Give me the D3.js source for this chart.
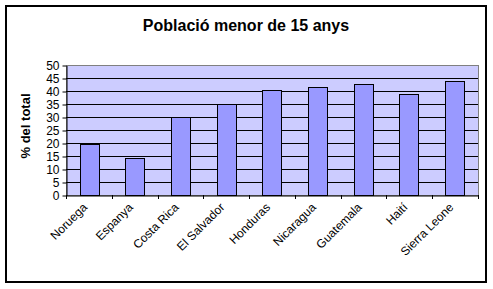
<!DOCTYPE html>
<html>
<head>
<meta charset="utf-8">
<script src="https://cdn.jsdelivr.net/npm/d3@7.9.0/dist/d3.min.js"></script>
<style>
  html, body { margin: 0; padding: 0; background: #fff; }
  svg { display: block; font-family: Arial, "Liberation Sans", sans-serif; }
</style>
</head>
<body>
<svg id="chart" width="493" height="289"></svg>
<script>
// data
var countries = ['Noruega', 'Espanya', 'Costa Rica', 'El Salvador', 'Honduras',
    'Nicaragua', 'Guatemala', 'Haití', 'Sierra Leone']
var values = [19.6, 14.1, 30.0, 34.9, 40.3, 41.4, 42.6, 38.7, 43.7]
var yTicks = [0, 5, 10, 15, 20, 25, 30, 35, 40, 45, 50]

var svg = d3.select('#chart')
var plot = { left: 66, top: 65, right: 478, bottom: 195 }

// outer frame
svg.append('rect')
    .attr('x', 6).attr('y', 6)
    .attr('width', 480).attr('height', 276)
    .attr('fill', '#fff')
    .attr('stroke', '#000')
    .attr('stroke-width', 2)

svg.append('text')
    .attr('x', 246).attr('y', 31)
    .attr('text-anchor', 'middle')
    .attr('font-size', 16)
    .attr('font-weight', 'bold')
    .text('Població menor de 15 anys')

var x = d3.scaleBand().domain(countries).range([plot.left, plot.right]).paddingInner(0.58).paddingOuter(0.3)
var xb = d3.scaleBand().domain(countries).range([plot.left, plot.right])
var y = d3.scaleLinear().domain([0, 50]).range([plot.bottom, plot.top])

// plot background
svg.append('rect')
    .attr('x', plot.left).attr('y', plot.top)
    .attr('width', plot.right - plot.left).attr('height', plot.bottom - plot.top)
    .attr('fill', '#ccccff')
    .attr('stroke', '#808080')
    .attr('stroke-width', 1)
    .attr('shape-rendering', 'crispEdges')

// gridlines
svg.append('g')
    .selectAll('line')
    .data(yTicks.filter(function (t) { return t > 0 && t < 50 }))
    .join('line')
    .attr('x1', plot.left).attr('x2', plot.right)
    .attr('y1', function (d) { return Math.round(y(d)) + 0.5 })
    .attr('y2', function (d) { return Math.round(y(d)) + 0.5 })
    .attr('stroke', '#000')

// bars
svg.append('g')
    .selectAll('rect')
    .data(values)
    .join('rect')
    .attr('x', function (d, i) { return Math.round(x(countries[i])) + 0.5 })
    .attr('y', function (d) { return Math.round(y(d)) + 0.5 })
    .attr('width', Math.round(x.bandwidth()))
    .attr('height', function (d) { return Math.round(y(0)) - Math.round(y(d)) })
    .attr('fill', '#9999ff')
    .attr('stroke', '#000')
    .attr('stroke-width', 1)

// y axis
var yAxis = svg.append('g')
    .attr('transform', 'translate(' + (plot.left + 0.5) + ',0.5)')
    .call(d3.axisLeft(y).tickValues(yTicks).tickSize(4).tickPadding(3).tickSizeOuter(0))
yAxis.select('.domain').attr('stroke', '#000')
yAxis.selectAll('text').attr('font-size', 12).attr('font-family', 'Arial, "Liberation Sans", sans-serif').attr('fill', '#000')

// x axis
var xAxis = svg.append('g')
    .attr('transform', 'translate(0,' + (plot.bottom + 0.5) + ')')
    .call(d3.axisBottom(xb).tickSize(0).tickFormat(''))
xAxis.select('.domain').attr('stroke', '#000')
svg.append('g')
    .selectAll('line')
    .data(countries.concat(['end']))
    .join('line')
    .attr('x1', function (d, i) { return Math.round(plot.left + i * xb.step()) + 0.5 })
    .attr('x2', function (d, i) { return Math.round(plot.left + i * xb.step()) + 0.5 })
    .attr('y1', plot.bottom).attr('y2', plot.bottom + 4)
    .attr('stroke', '#000')

svg.append('g')
    .selectAll('text')
    .data(countries)
    .join('text')
    .attr('transform', function (d) {
        return 'translate(' + (xb(d) + xb.bandwidth() / 2 - 1) + ',' + 208 + ') rotate(-45)'
    })
    .attr('text-anchor', 'end')
    .attr('font-size', 12)
    .text(function (d) { return d })

svg.append('text')
    .attr('transform', 'translate(30,126) rotate(-90)')
    .attr('text-anchor', 'middle')
    .attr('font-size', 13)
    .attr('font-weight', 'bold')
    .text('% del total')
</script>
</body>
</html>
